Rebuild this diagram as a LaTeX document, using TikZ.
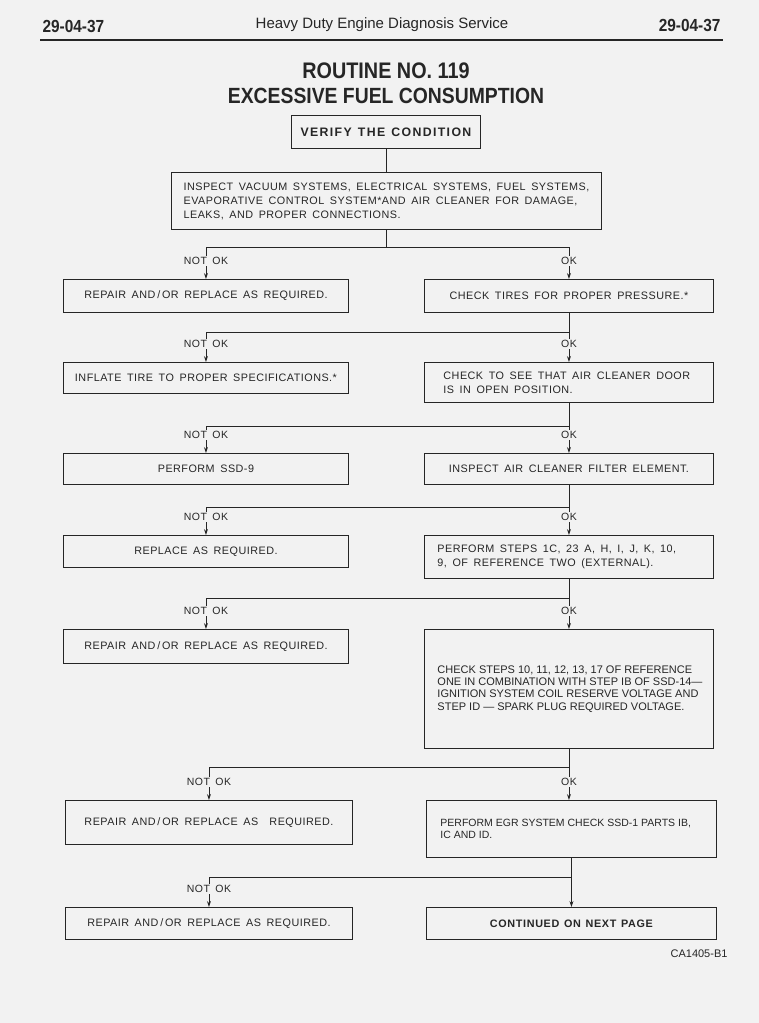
\documentclass[tikz,border=0pt]{standalone}
\usepackage{fontspec}
\setmainfont{Liberation Sans}
\newfontfamily\boxfont{Liberation Sans}[LetterSpace=4.5,WordSpace=1.6]
\newfontfamily\wideboldfont{Liberation Sans}[LetterSpace=11,WordSpace=1.3]
\newfontfamily\boldfont{Liberation Sans}[LetterSpace=6,WordSpace=1.3]
\newfontfamily\headfont{Liberation Sans}[FakeStretch=0.88]
\usetikzlibrary{arrows.meta}
\definecolor{paper}{gray}{0.95}
\definecolor{ink}{gray}{0.15}
\tikzstyle{box} = [draw=ink, line width=0.9pt, anchor=north west, inner sep=0pt, text=ink, font=\boxfont\fontsize{10.8}{14}\selectfont]
\tikzstyle{leftbox} = [box, align=left, inner xsep=13pt, text width=263pt, execute at begin node={\spaceskip=0pt\xspaceskip=0pt\relax}]
\tikzstyle{narrowbox} = [leftbox, font=\fontsize{11}{12.4}\selectfont]
\tikzstyle{line} = [draw=ink, line width=0.8pt]
\tikzstyle{arrow} = [line, -{Stealth[length=6pt,width=4pt]}]
\tikzstyle{lbl} = [fill=paper, inner sep=1pt, text=ink, font=\boxfont\fontsize{10.5}{12}\selectfont]

\begin{document}
\begin{tikzpicture}[x=1pt,y=-1pt]

\fill[paper] (0,0) rectangle (759,1023);

%page head
\node[anchor=west, text=ink, font=\headfont\bfseries\fontsize{17.5}{17.5}\selectfont] (pageleft) at (39,26) {29-04-37};
\node[text=ink, font=\fontsize{15}{15}\selectfont] (pagehead) at (382,25) {Heavy Duty Engine Diagnosis Service};
\node[anchor=east, text=ink, font=\headfont\bfseries\fontsize{17.5}{17.5}\selectfont] (pageright) at (724,25) {29-04-37};
\draw[draw=ink, line width=1.3pt] (40,40) -- (723,40);

\node[text=ink, font=\headfont\bfseries\fontsize{22.5}{22.5}\selectfont] (routine) at (386,71) {ROUTINE NO. 119};
\node[text=ink, font=\headfont\bfseries\fontsize{22}{22}\selectfont] (subject) at (386,96) {EXCESSIVE FUEL CONSUMPTION};

%boxes, top left corner at (x,y)
\node[box, font=\wideboldfont\bfseries\fontsize{12.3}{14}\selectfont, minimum width=189pt, minimum height=33pt] (verify) at (291,115) {VERIFY THE CONDITION};
\node[box, align=left, minimum width=430pt, minimum height=57pt] (inspect) at (171,172) {INSPECT VACUUM SYSTEMS, ELECTRICAL SYSTEMS, FUEL SYSTEMS,\\EVAPORATIVE CONTROL SYSTEM*AND AIR CLEANER FOR DAMAGE,\\LEAKS, AND PROPER CONNECTIONS.};

\node[box, minimum width=285pt, minimum height=33pt] (l1) at (63,279) {REPAIR AND\,/\,OR REPLACE AS REQUIRED.};
\node[box, minimum width=289pt, minimum height=33pt] (r1) at (424,279) {CHECK TIRES FOR PROPER PRESSURE.*};

\node[box, minimum width=285pt, minimum height=31pt] (l2) at (63,362) {INFLATE TIRE TO PROPER SPECIFICATIONS.*};
\node[leftbox, inner xsep=19pt, text width=251pt, minimum height=40pt] (r2) at (424,362) {\mbox{CHECK TO SEE THAT AIR CLEANER DOOR}\\\mbox{IS IN OPEN POSITION.}};

\node[box, minimum width=285pt, minimum height=31pt] (l3) at (63,453) {PERFORM SSD-9};
\node[box, minimum width=289pt, minimum height=31pt] (r3) at (424,453) {INSPECT AIR CLEANER FILTER ELEMENT.};

\node[box, minimum width=285pt, minimum height=32pt] (l4) at (63,535) {REPLACE AS REQUIRED.};
\node[leftbox, minimum height=43pt] (r4) at (424,535) {\mbox{PERFORM STEPS 1C, 23 A, H, I, J, K, 10,}\\\mbox{9, OF REFERENCE TWO (EXTERNAL).}};

\node[box, minimum width=285pt, minimum height=34pt] (l5) at (63,629) {REPAIR AND\,/\,OR REPLACE AS REQUIRED.};
\node[narrowbox, minimum height=119pt] (r5) at (424,629) {\mbox{CHECK STEPS 10, 11, 12, 13, 17 OF REFERENCE}\\\mbox{ONE IN COMBINATION WITH STEP IB OF SSD-14—}\\\mbox{IGNITION SYSTEM COIL RESERVE VOLTAGE AND}\\\mbox{STEP ID — SPARK PLUG REQUIRED VOLTAGE.}};

\node[box, minimum width=287pt, minimum height=44pt] (l6) at (65,800) {REPAIR AND\,/\,OR REPLACE AS \ REQUIRED.};
\node[narrowbox, font=\fontsize{10.5}{12.4}\selectfont, inner xsep=14pt, text width=262pt, minimum height=57pt] (r6) at (426,800) {\mbox{PERFORM EGR SYSTEM CHECK SSD-1 PARTS IB,}\\\mbox{IC AND ID.}};

\node[box, minimum width=287pt, minimum height=32pt] (l7) at (65,907) {REPAIR AND\,/\,OR REPLACE AS REQUIRED.};
\node[box, font=\boldfont\bfseries\fontsize{10.8}{12}\selectfont, minimum width=290pt, minimum height=32pt] (r7) at (426,907) {CONTINUED ON NEXT PAGE};

%connectors
\draw[line] (verify.south) -- (verify.south |- inspect.north);
\coordinate (bend) at (0,247);
\draw[line] (inspect.south) -- (inspect.south |- bend) coordinate (fork);
\draw[arrow] (fork) -| (l1.north);
\draw[arrow] (fork) -| (r1.north);
\node[lbl] at ([yshift=18pt]l1.north) {NOT OK};
\node[lbl] at ([yshift=18pt]r1.north) {OK};

\foreach \up/\y/\dl/\dr in {r1/332/l2/r2, r2/426/l3/r3, r3/507/l4/r4, r4/598/l5/r5, r5/767/l6/r6}
{
\coordinate (bend) at (0,\y);
\draw[line] (\up.south) -- (\up.south |- bend) coordinate (fork);
\draw[arrow] (fork) -| (\dl.north);
\draw[arrow] (fork) -- (\dr.north -| fork);
\node[lbl] at ([yshift=18pt]\dl.north) {NOT OK};
\node[lbl] at ([yshift=18pt]\dr.north -| fork) {OK};
}

\coordinate (bend) at (0,877);
\draw[line] (r6.south) -- (r6.south |- bend) coordinate (fork);
\draw[arrow] (fork) -| (l7.north);
\draw[arrow] (fork) -- (r7.north -| fork);
\node[lbl] at ([yshift=18pt]l7.north) {NOT OK};

\node[anchor=east, text=ink, font=\fontsize{11}{12}\selectfont] (figno) at (731,954) {CA1405-B1};

\end{tikzpicture}
\end{document}
